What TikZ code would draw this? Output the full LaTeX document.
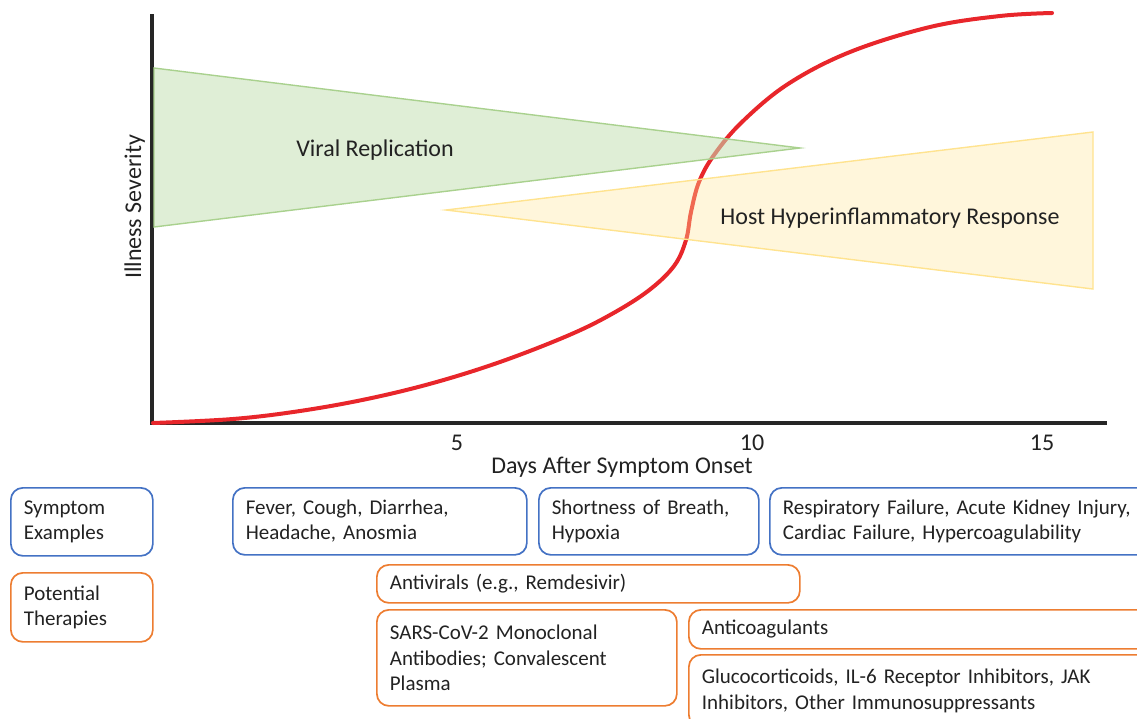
\documentclass[tikz,border=0pt]{standalone}
\usepackage{fontspec}
\setmainfont{Carlito}
\definecolor{symc}{HTML}{4472C4}
\definecolor{thrc}{HTML}{ED7D31}
\definecolor{textc}{HTML}{222222}
\definecolor{axisc}{HTML}{262626}
\definecolor{curvec}{HTML}{E8262B}
\definecolor{vgreen}{HTML}{C5E0B4}
\definecolor{vedge}{HTML}{A9D18E}
\definecolor{hyellow}{HTML}{FFE699}
\definecolor{hedge}{HTML}{FFE38F}
\begin{document}
\frenchspacing
\begin{tikzpicture}[x=1pt,y=-1pt,
  lab/.style={font=\fontsize{24}{29}\selectfont, text=textc, inner sep=0pt},
  bx/.style={draw, line width=1.7pt, rounded corners=12pt, align=left,
    inner xsep=13pt, inner ysep=0pt, anchor=north west,
    font=\fontsize{21}{25.3}\selectfont, text=textc},
  sym/.style={bx, draw=symc},
  thr/.style={bx, draw=thrc},
  axisline/.style={draw=axisc, line width=3.5pt},
  curveline/.style={draw=curvec, line width=4pt, line cap=round},
  vtri/.style={fill=vgreen, fill opacity=0.55, draw=vedge, line width=1.4pt, line join=miter},
  htri/.style={fill=hyellow, fill opacity=0.35, draw=hedge, line width=1.4pt, line join=miter}]
\useasboundingbox (0,0) rectangle (1137,718);
\clip (0,0) rectangle (1137,718);

% axes
\coordinate (ytop) at (152,14);
\coordinate (orig) at (152,423);
\coordinate (xend) at (1107,423);
\draw[axisline] (ytop) -- (orig) -- (xend);

% severity curve
\draw[curveline] plot[smooth, tension=0.6] coordinates {
  (153,423) (233,419) (300,411) (367,399) (433,383) (500,362)
  (567,336) (610,315) (648,291) (674,266) (686,240) (691,212)
  (699,182) (714,155) (742,122) (788,84) (850,52) (930,27)
  (1000,16) (1052,13)};

% triangles
\coordinate (v1) at (154,68);
\coordinate (v2) at (800,148);
\coordinate (v3) at (154,227);
\path[vtri] (v1) -- (v2) -- (v3) -- cycle;
\coordinate (h1) at (446,210);
\coordinate (h2) at (1093,132);
\coordinate (h3) at (1093,289);
\path[htri] (h1) -- (h2) -- (h3) -- cycle;

% chart labels
\node[lab, anchor=base] (vr) at (375,156) {Viral Replication};
\node[lab, anchor=base] (hh) at (890,224) {Host Hyperinflammatory Response};
\node[lab, anchor=base] (t5) at (457,450) {5};
\node[lab, anchor=base] (t10) at (752,450) {10};
\node[lab, anchor=base] (t15) at (1042,450) {15};
\node[lab, anchor=base] (xl) at (622,473) {Days After Symptom Onset};
\node[lab, anchor=base, rotate=90] (yl) at (141,207) {Illness Severity};

% symptom boxes
\node[sym, text width=116pt, minimum height=68pt] (symex) at (10,487) {Symptom\\Examples};
\node[sym, text width=268pt, minimum height=67pt] (fever) at (232,487) {Fever, Cough, Diarrhea,\\Headache, Anosmia};
\node[sym, text width=194pt, minimum height=67pt] (sob) at (538,487) {Shortness of Breath,\\Hypoxia};
\node[sym, text width=362pt, minimum height=67pt] (resp) at (769,487) {Respiratory Failure, Acute Kidney Injury,\\Cardiac Failure, Hypercoagulability};

% therapy boxes
\node[thr, text width=116pt, minimum height=69pt] (ther) at (10,572) {Potential\\Therapies};
\node[thr, text width=397pt, minimum height=38pt] (antiv) at (376,564) {Antivirals (e.g., Remdesivir)};
\node[thr, text width=274pt, minimum height=96pt] (sars) at (376,609) {SARS-CoV-2 Monoclonal\\Antibodies; Convalescent\\Plasma};
\node[thr, text width=446pt, minimum height=39pt] (antic) at (688,609) {Anticoagulants};
\node[thr, text width=446pt, minimum height=72pt] (gluco) at (688,654) {Glucocorticoids, IL-6 Receptor Inhibitors, JAK\\Inhibitors, Other Immunosuppressants};
\end{tikzpicture}
\end{document}
